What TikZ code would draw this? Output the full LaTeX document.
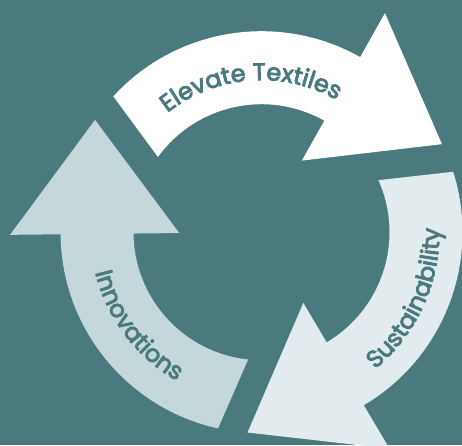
\documentclass[tikz,border=0pt]{standalone}
\usepackage{fontspec}
\setmainfont{Poppins}[UprightFeatures={FakeBold=3.5}]
\usetikzlibrary{calc,decorations.text}
\definecolor{bgteal}{RGB}{74,121,126}
\definecolor{paleblue}{RGB}{196,216,220}
\definecolor{mistblue}{RGB}{226,236,238}
\tikzset{
  cycle arrow/.style={
    fill=#1
  },
  cycle label/.style={
    decorate,
    decoration={text along path, text align=center, text color=bgteal,
      text={|\fontsize{24}{28}\selectfont|#1}}
  }
}
% one bent arrow of the cycle, drawn round (c) and turned by #1
\newcommand{\cyclearrow}[2]{%
  \fill[cycle arrow=#2, shift={(c)}, rotate=#1]
    (257.5:201) arc[start angle=257.5, end angle=180.6, radius=201pt]
    -- (180.6:251.5) -- (146:200.8) -- (180.6:82.2) -- (180.6:128)
    arc[start angle=180.6, end angle=264, radius=128pt] -- cycle;
}
\begin{document}
\begin{tikzpicture}[x=1pt, y=1pt]
  \fill[bgteal] (0,0) rectangle (462,445);
  \useasboundingbox (0,0) rectangle (462,445);
  \coordinate (c) at (261.5,212.8);

  \cyclearrow{0}{paleblue}
  \cyclearrow{-120}{white}
  \cyclearrow{120}{mistblue}

  \path[cycle label=Elevate Textiles] (c) ++(134.3:152)
    arc[start angle=134.3, end angle=54.3, radius=152pt];
  \path[cycle label=Sustainability] (c) ++(-64.5:178)
    arc[start angle=-64.5, end angle=15.5, radius=178pt];
  \path[cycle label=Innovations] (c) ++(177:171)
    arc[start angle=177, end angle=257, radius=171pt];
\end{tikzpicture}
\end{document}
